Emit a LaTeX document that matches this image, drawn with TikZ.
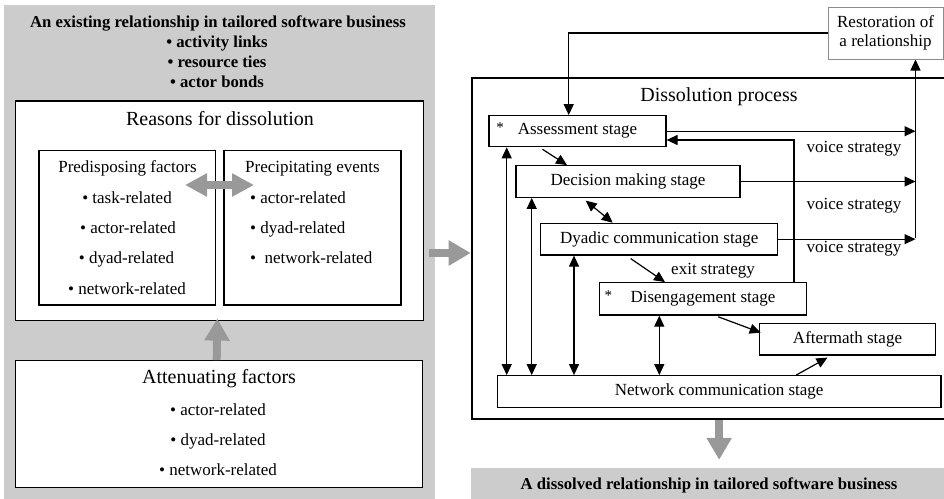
\documentclass[tikz,border=0pt]{standalone}
\usepackage{fontspec}
\setmainfont{Liberation Serif}
\usetikzlibrary{arrows.meta,calc}
\definecolor{panelgray}{HTML}{CCCCCC}
\definecolor{arrowgray}{HTML}{999999}
\definecolor{rimgray}{HTML}{8C8C8C}
\begin{document}
\begin{tikzpicture}[x=1pt,y=-1pt,
  frame/.style={draw, line width=1.2pt, fill=white, inner sep=0pt, rectangle},
  big/.style={inner sep=0pt, font=\fontsize{20}{24}\selectfont, text height=14pt, text depth=4pt},
  txt/.style={inner sep=0pt, font=\fontsize{17}{20}\selectfont, text height=12pt, text depth=3.5pt},
  head/.style={inner sep=0pt, font=\fontsize{16.7}{20}\selectfont\bfseries, text height=12pt, text depth=3.5pt},
  stagebox/.style={frame, font=\fontsize{17}{20}\selectfont},
  starmark/.style={inner sep=0pt, font=\fontsize{15}{16}\selectfont},
  arr/.style={line width=1.2pt, -{Triangle[length=11pt,width=10pt]}},
  dbl/.style={line width=1.2pt, {Triangle[length=11pt,width=10pt]}-{Triangle[length=11pt,width=10pt]}},
  garr/.style={draw=arrowgray, line width=8pt, -{Triangle[length=22pt,width=24pt]}},
  gdbl/.style={draw=arrowgray, line width=8pt, {Triangle[length=22pt,width=22pt]}-{Triangle[length=22pt,width=22pt]}}
]
\useasboundingbox (0,0) rectangle (944,498);
\clip (0,0) rectangle (944,498);
\fill[white] (0,0) rectangle (944,498);

% ---------- existing relationship (left panel) ----------
\node[fill=panelgray, inner sep=0pt, minimum width=431.5pt, minimum height=495pt] (panel) at (219.25,252.5) {};
\node[head] (title) at (218,23) {An existing relationship in tailored software business};
\node[head] (t1) at (217,43) {• activity links};
\node[head] (t2) at (217,63) {• resource ties};
\node[head] (t3) at (217,83) {• actor bonds};

\node[frame, minimum width=407.6pt, minimum height=219.7pt] (reasons) at (219.5,210.85) {};
\node[big] (reasonstitle) at (220,120) {Reasons for dissolution};

\node[frame, minimum width=176.7pt, minimum height=154.3pt] (predis) at (127.35,227.85) {};
\node[frame, minimum width=177pt, minimum height=154.3pt] (precip) at (312.5,227.85) {};

\node[txt] (p0) at (127.5,168) {Predisposing factors};
\node[txt] (p1) at (127,199) {• task-related};
\node[txt] (p2) at (128,229) {• actor-related};
\node[txt] (p3) at (126.5,259.5) {• dyad-related};
\node[txt] (p4) at (127,290.5) {• network-related};

\node[txt] (q0) at (312.5,168) {Precipitating events};
\node[txt, anchor=west] (q1) at (250,199) {• actor-related};
\node[txt, anchor=west] (q2) at (250,229) {• dyad-related};
\node[txt, anchor=west] (q3) at (250,259.5) {•\ \ network-related};

\coordinate (pqL) at (185,185);
\coordinate (pqR) at (254,185);
\draw[gdbl] (pqL) -- (pqR);

\node[frame, minimum width=407.2pt, minimum height=127pt] (atten) at (218.9,424.2) {};
\node[big] (a0) at (219,378.3) {Attenuating factors};
\node[txt] (a1) at (218,411.7) {• actor-related};
\node[txt] (a2) at (218,441.7) {• dyad-related};
\node[txt] (a3) at (218,471.7) {• network-related};

\draw[garr] ([xshift=-2.2pt]atten.north) -- ([xshift=-2.2pt,yshift=2.7pt]reasons.south);

% ---------- dissolution process (right panel) ----------
\node[draw, line width=2pt, fill=white, inner sep=0pt, minimum width=476.3pt, minimum height=341.6pt] (dissol) at (709.85,248.5) {};
\node[big] (dissoltitle) at (719,96.7) {Dissolution process};

\node[draw=rimgray, line width=1pt, fill=white, inner sep=0pt, minimum width=115pt, minimum height=52pt,
      align=center, font=\fontsize{17}{20}\selectfont] (restore) at (885.5,33) {Restoration of\\[-0.5pt]a relationship};

\node[stagebox, minimum width=177pt, minimum height=31pt] (assess) at (577.5,131.2) {Assessment stage};
\node[starmark] (star1) at (500,128) {*};
\node[stagebox, minimum width=224pt, minimum height=31.6pt] (decision) at (628,181.5) {Decision making stage};
\node[stagebox, minimum width=237pt, minimum height=31.7pt] (dyadic) at (659.2,239.15) {Dyadic communication stage};
\node[stagebox, minimum width=207.4pt, minimum height=32.3pt] (diseng) at (703,298.85) {Disengagement stage};
\node[starmark] (star2) at (608.3,296) {*};
\node[stagebox, minimum width=176.4pt, minimum height=31.7pt] (after) at (847.5,339.15) {Aftermath stage};
\node[stagebox, minimum width=443.7pt, minimum height=32pt] (network) at (719.15,391.7) {Network communication stage};

% restoration loop
\draw[arr] (restore.west) -| ([xshift=-8.8pt]assess.north);
\coordinate (vbus) at (915.5,238);
\draw[arr] (vbus) -- (vbus |- restore.south);

% voice strategy exits
\draw[arr] (assess.east) -- (assess.east -| vbus);
\draw[arr] (decision.east) -- (decision.east -| vbus);
\draw[arr] (dyadic.east) -- (dyadic.east -| vbus);
\node[txt] (vs1) at (854,148.3) {voice strategy};
\node[txt] (vs2) at (854,205.7) {voice strategy};
\node[txt] (vs3) at (854,248.3) {voice strategy};

% return from disengagement to assessment
\draw[arr] ([xshift=91pt]diseng.north) |- ([yshift=-8.8pt]assess.east);

% stage sequence
\draw[arr] ([xshift=-35pt,yshift=-2pt]assess.south) -- ([xshift=-61pt]decision.north);
\draw[dbl] ([xshift=-42.3pt,yshift=-2.7pt]decision.south) -- ([xshift=-46.5pt]dyadic.north);
\draw[arr] ([xshift=-28.5pt,yshift=-3pt]dyadic.south) -- ([xshift=-38pt]diseng.north);
\node[txt] (exitlbl) at (713,270.7) {exit strategy};
\draw[arr] ([xshift=15.3pt,yshift=-1.2pt]diseng.south) -- ([xshift=2pt,yshift=6.5pt]after.west);
\draw[arr] ([xshift=77pt]network.north) -- ([xshift=-20pt,yshift=-2pt]after.south);

% network communication links
\coordinate (c1) at (506.7,0);
\coordinate (c2) at (531.7,0);
\coordinate (c3) at (574,0);
\coordinate (c4) at (659.3,0);
\draw[dbl] (network.north -| c1) -- (assess.south -| c1);
\draw[dbl] (network.north -| c2) -- (decision.south -| c2);
\draw[dbl] (network.north -| c3) -- (dyadic.south -| c3);
\draw[dbl] (network.north -| c4) -- (diseng.south -| c4);

% ---------- dissolved relationship ----------
\node[fill=panelgray, inner sep=0pt, minimum width=477.3pt, minimum height=32.3pt] (dissolved) at (709.35,483.85) {};
\node[head] (dtext) at (709,485) {A dissolved relationship in tailored software business};

% flow between panels
\draw[garr] ([xshift=-41.7pt,yshift=-4.5pt]dissol.west) -- ([yshift=-4.5pt]dissol.west);
\draw[garr] (network.south |- dissol.south) -- ([yshift=7.7pt]network.south |- dissolved.north);
\end{tikzpicture}
\end{document}
